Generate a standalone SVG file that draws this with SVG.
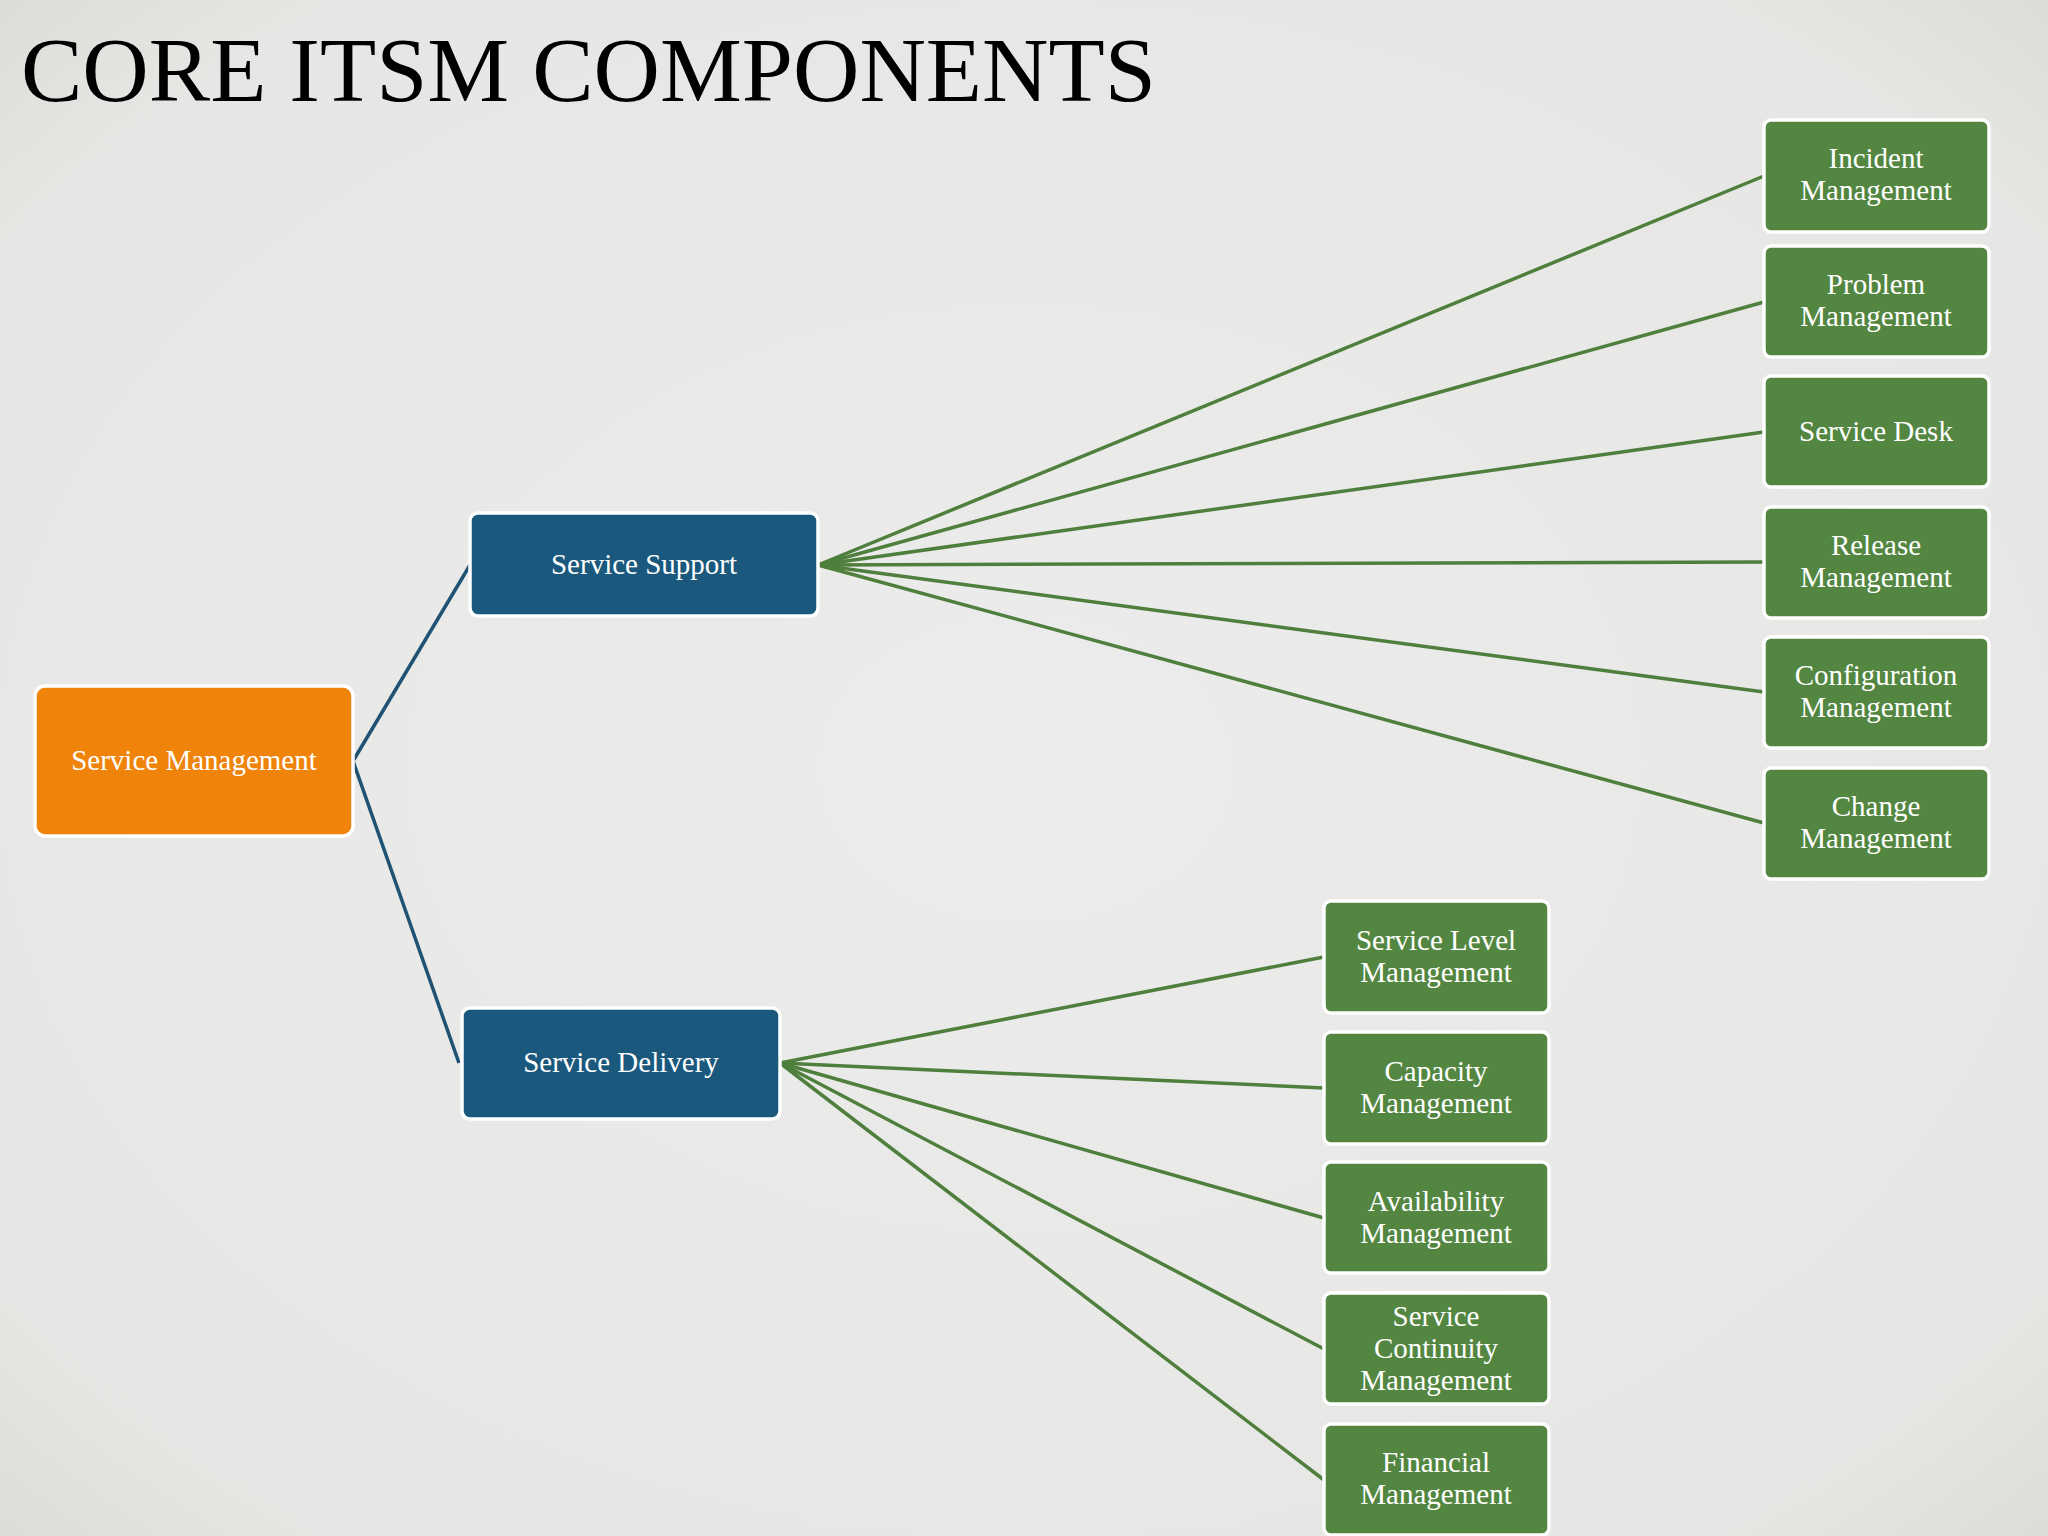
<svg xmlns="http://www.w3.org/2000/svg" width="2048" height="1536" viewBox="0 0 2048 1536">
<defs>
<radialGradient id="bg" cx="50%" cy="50%" r="75%">
<stop offset="0" stop-color="#ECECEC"/><stop offset="0.8" stop-color="#E6E6E4"/><stop offset="1" stop-color="#D8D8D4"/>
</radialGradient>
<style>
.n rect{stroke:#fff;stroke-width:3.5}
.o rect{fill:#F0830A}
.b rect{fill:#1A587D}
.g rect{fill:#538641}
text{font-family:"Liberation Serif",serif;fill:#fff;font-size:29px;text-anchor:middle}
.c line{stroke-width:3.5}
.bl{stroke:#1F5273}
.gl{stroke:#4F7F3C}
</style>
</defs>
<rect width="2048" height="1536" fill="url(#bg)"/>
<text x="21" y="101" style="font-size:92px;fill:#000;text-anchor:start">CORE ITSM COMPONENTS</text>
<g class="c">
<line class="bl" x1="353" y1="761" x2="470" y2="565"/>
<line class="bl" x1="353" y1="761" x2="459" y2="1063"/>
<line class="gl" x1="818" y1="565" x2="1764" y2="176"/>
<line class="gl" x1="818" y1="565" x2="1764" y2="302"/>
<line class="gl" x1="818" y1="565" x2="1764" y2="432"/>
<line class="gl" x1="818" y1="565" x2="1764" y2="562"/>
<line class="gl" x1="818" y1="565" x2="1764" y2="692"/>
<line class="gl" x1="818" y1="565" x2="1764" y2="823"/>
<line class="gl" x1="780" y1="1063" x2="1324" y2="957"/>
<line class="gl" x1="780" y1="1063" x2="1324" y2="1088"/>
<line class="gl" x1="780" y1="1063" x2="1324" y2="1218"/>
<line class="gl" x1="780" y1="1063" x2="1324" y2="1349"/>
<line class="gl" x1="780" y1="1063" x2="1324" y2="1480"/>
</g>
<g id="sm" class="n o"><rect x="35" y="686" width="318" height="150" rx="10"/><text x="194" y="770">Service Management</text></g>
<g id="ss" class="n b"><rect x="470" y="513" width="348" height="103" rx="8"/><text x="644" y="574">Service Support</text></g>
<g id="sd" class="n b"><rect x="462" y="1008" width="318" height="111" rx="8"/><text x="621" y="1072">Service Delivery</text></g>
<g id="inc" class="n g"><rect x="1764" y="120" width="225" height="112" rx="7"/><text x="1876" y="168">Incident</text><text x="1876" y="200">Management</text></g>
<g id="prb" class="n g"><rect x="1764" y="246" width="225" height="111" rx="7"/><text x="1876" y="294">Problem</text><text x="1876" y="326">Management</text></g>
<g id="desk" class="n g"><rect x="1764" y="376" width="225" height="111" rx="7"/><text x="1876" y="441">Service Desk</text></g>
<g id="rel" class="n g"><rect x="1764" y="507" width="225" height="111" rx="7"/><text x="1876" y="555">Release</text><text x="1876" y="587">Management</text></g>
<g id="cfg" class="n g"><rect x="1764" y="637" width="225" height="111" rx="7"/><text x="1876" y="685">Configuration</text><text x="1876" y="717">Management</text></g>
<g id="chg" class="n g"><rect x="1764" y="768" width="225" height="111" rx="7"/><text x="1876" y="816">Change</text><text x="1876" y="848">Management</text></g>
<g id="slm" class="n g"><rect x="1324" y="901" width="225" height="112" rx="7"/><text x="1436" y="950">Service Level</text><text x="1436" y="982">Management</text></g>
<g id="cap" class="n g"><rect x="1324" y="1032" width="225" height="112" rx="7"/><text x="1436" y="1081">Capacity</text><text x="1436" y="1113">Management</text></g>
<g id="ava" class="n g"><rect x="1324" y="1162" width="225" height="111" rx="7"/><text x="1436" y="1211">Availability</text><text x="1436" y="1243">Management</text></g>
<g id="cont" class="n g"><rect x="1324" y="1293" width="225" height="111" rx="7"/><text x="1436" y="1326">Service</text><text x="1436" y="1358">Continuity</text><text x="1436" y="1390">Management</text></g>
<g id="fin" class="n g"><rect x="1324" y="1424" width="225" height="111" rx="7"/><text x="1436" y="1472">Financial</text><text x="1436" y="1504">Management</text></g>
</svg>
